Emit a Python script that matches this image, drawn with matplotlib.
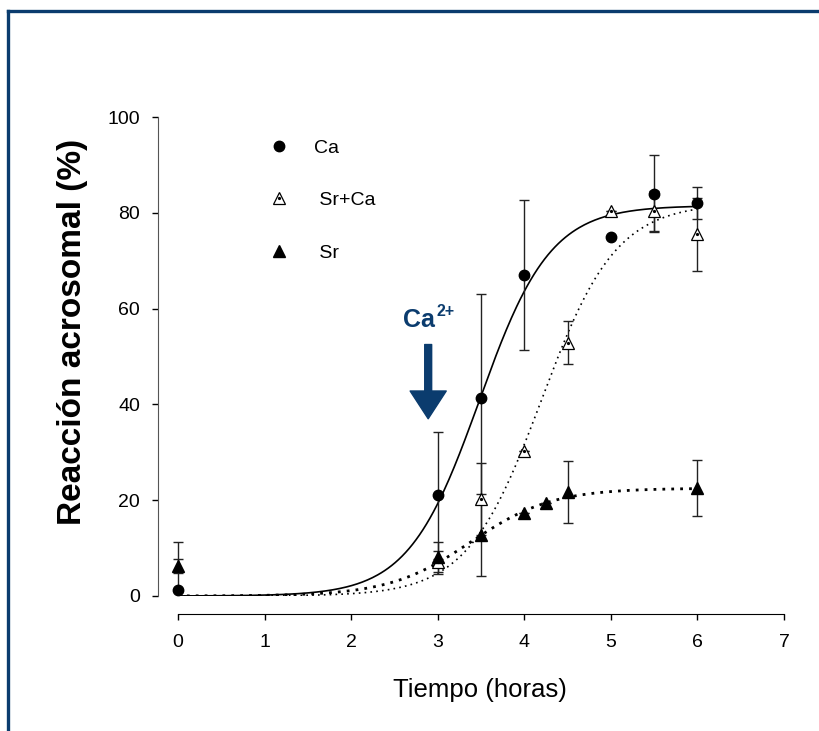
import numpy as np
import matplotlib
matplotlib.use("Agg")
import matplotlib.pyplot as plt
from matplotlib.lines import Line2D

plt.rcParams['font.family'] = ['Liberation Sans', 'DejaVu Sans']

# observed points (hours, % acrosome reaction, error)
t_ca = [0, 3, 3.5, 4, 5, 5.5, 6]
ca = [1.2, 21.0, 41.3, 67.0, 75.0, 84.0, 82.0]
ca_err = [10.0, 13.3, 21.7, 15.7, 0.0, 8.0, 3.3]

t_srca = [3, 3.5, 4, 4.5, 5, 5.5, 6]
srca = [7.0, 20.2, 30.3, 52.9, 80.4, 80.4, 75.5]
srca_err = [2.4, 7.5, 0.0, 4.5, 0.0, 4.2, 7.6]

t_sr = [0, 3, 3.5, 4, 4.25, 4.5, 6]
sr = [6.3, 8.2, 12.7, 17.3, 19.4, 21.7, 22.5]
sr_err = [1.5, 3.1, 8.5, 0.0, 0.0, 6.5, 5.9]

# sigmoid fit parameters (a, x0, b): y = a / (1 + exp(-(x - x0) / b))
ca_fit = (81.5, 3.48, 0.41)
srca_fit = (82.0, 4.2, 0.43)
sr_fit = (22.5, 3.38, 0.47)

xticks = [0, 1, 2, 3, 4, 5, 6, 7]
yticks = [0, 20, 40, 60, 80, 100]


def sigmoid(x, p):
    a, x0, b = p
    return a / (1.0 + np.exp(-(x - x0) / b))


navy = '#0b3c6e'

fig = plt.figure(figsize=(8.19, 7.31), dpi=100)
ax = fig.add_axes([158 / 819, 135 / 731, 626 / 819, 479 / 731])

tt = np.linspace(0, 6, 300)
ax.plot(tt, sigmoid(tt, ca_fit), color='black', lw=1.2)
ax.plot(tt, sigmoid(tt, srca_fit), color='black', lw=1.2,
        linestyle=(0, (1, 2.5)))
ax.plot(tt, sigmoid(tt, sr_fit), color='black', lw=2.0,
        linestyle=(0, (1, 2.2)))

ekw = dict(fmt='none', ecolor='#222222', elinewidth=1.0, capsize=3.6,
           capthick=1.0)
ax.errorbar(t_ca, ca, yerr=ca_err, **ekw)
ax.errorbar(t_srca, srca, yerr=srca_err, **ekw)
ax.errorbar(t_sr, sr, yerr=sr_err, **ekw)

ax.plot(t_srca, srca, linestyle='none', marker='^', ms=8.5, mfc='white',
        mec='black', mew=0.9, clip_on=False, zorder=4)
ax.plot(t_srca, srca, linestyle='none', marker='o', ms=1.3, color='black',
        clip_on=False, zorder=5)
ax.plot(t_sr, sr, linestyle='none', marker='^', ms=9, color='black',
        clip_on=False, zorder=4)
ax.plot(t_ca, ca, linestyle='none', marker='o', ms=7.5, color='black',
        clip_on=False, zorder=6)

ax.set_xlim(-0.231, 7)
ax.set_ylim(0, 100)
ax.set_xticks(xticks)
ax.set_yticks(yticks)
ax.tick_params(direction='out', length=4, width=1, labelsize=14)
ax.tick_params(axis='x', pad=10.5)
ax.tick_params(axis='y', pad=9)

for s in ['top', 'right']:
    ax.spines[s].set_visible(False)
ax.spines['bottom'].set_bounds(0, 7)
ax.spines['bottom'].set_position(('outward', 13))
ax.spines['left'].set_color('#555555')

ax.set_xlabel('Tiempo (horas)', fontsize=18.5)
ax.xaxis.set_label_coords(0.514, -0.171)
ax.set_ylabel('Reacción acrosomal (%)', fontsize=24, fontweight='bold')
ax.yaxis.set_label_coords(-0.112, 0.551)

# legend
h_ca = Line2D([], [], linestyle='none', marker='o', ms=7.5, color='black')
h_srca = Line2D([], [], linestyle='none', marker='^', ms=8, mfc='white',
                mec='black', mew=0.9)
h_dot = Line2D([], [], linestyle='none', marker='o', ms=1.3, color='black')
h_sr = Line2D([], [], linestyle='none', marker='^', ms=8.5, color='black')
ax.legend([h_ca, (h_srca, h_dot), h_sr], ['Ca', ' Sr+Ca', ' Sr'],
          loc='upper left', bbox_to_anchor=(0.1776, 0.954), frameon=False,
          fontsize=14, numpoints=1, handlelength=1.0, handletextpad=1.3,
          labelspacing=1.8, borderpad=0, borderaxespad=0)

# Ca2+ addition marker
ax.annotate('', xy=(2.89, 37.0), xytext=(2.89, 52.5),
            arrowprops=dict(facecolor=navy, edgecolor=navy, width=5,
                            headwidth=26, headlength=20))
ax.text(2.598, 56.2, 'Ca', color=navy, fontsize=18, fontweight='bold',
        va='baseline')
ax.text(2.985, 58.4, '2+', color=navy, fontsize=11.5, fontweight='bold',
        va='baseline')

# page frame (top and left edges)
fig.add_artist(Line2D([8 / 819, 1.0], [1 - 11 / 731, 1 - 11 / 731],
                      transform=fig.transFigure, color=navy, lw=2.4))
fig.add_artist(Line2D([8 / 819, 8 / 819], [0, 1 - 11 / 731],
                      transform=fig.transFigure, color=navy, lw=2.4))

fig.savefig('out.png', dpi=100)
